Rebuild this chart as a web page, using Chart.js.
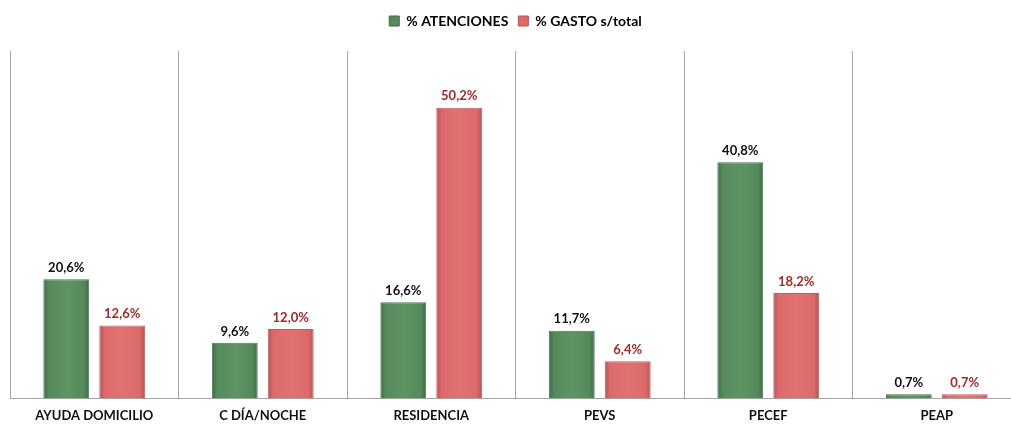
<!DOCTYPE html>
<html>
<head>
<meta charset="utf-8">
<script src="https://cdn.jsdelivr.net/npm/chart.js@4"></script>
<style>
  html, body { margin: 0; padding: 0; background: #fff; overflow: hidden; }
  #wrap { width: 1030px; height: 434px; }
</style>
</head>
<body>
<div id="wrap"><canvas id="chart"></canvas></div>
<script>
const categories = ['AYUDA DOMICILIO', 'C DÍA/NOCHE', 'RESIDENCIA', 'PEVS', 'PECEF', 'PEAP'];
const atenciones = [20.6, 9.6, 16.6, 11.7, 40.8, 0.7];
const gasto = [12.6, 12.0, 50.2, 6.4, 18.2, 0.7];
const seriesNames = ['% ATENCIONES', '% GASTO s/total'];

const fontFamily = 'Lato, "Open Sans", sans-serif';
const shades = [
  ['#3E6A44', '#568A5C', '#5E9464'],
  ['#B45253', '#DC6A6B', '#E27272']
];

function gradientFor(ctx, x, w, c) {
  const g = ctx.createLinearGradient(x - w / 2, 0, x + w / 2, 0);
  g.addColorStop(0, c[0]);
  g.addColorStop(0.12, c[1]);
  g.addColorStop(0.5, c[2]);
  g.addColorStop(0.88, c[1]);
  g.addColorStop(1, c[0]);
  return g;
}

// bevel-like shading on bars (scriptable colour keeps options per bar)
const barShading = {
  id: 'barShading',
  beforeDatasetsDraw(chart) {
    chart.data.datasets.forEach((ds, i) => {
      chart.getDatasetMeta(i).data.forEach(bar => {
        bar.options.backgroundColor = gradientFor(chart.ctx, bar.x, bar.width, shades[i]);
      });
    });
  }
};

const valueLabels = {
  id: 'valueLabels',
  afterDatasetsDraw(chart) {
    const ctx = chart.ctx;
    ctx.save();
    ctx.font = 'bold 13px ' + fontFamily;
    ctx.textAlign = 'center';
    ctx.textBaseline = 'bottom';
    chart.data.datasets.forEach((ds, i) => {
      const meta = chart.getDatasetMeta(i);
      ctx.fillStyle = i === 0 ? '#111111' : '#A52A2A';
      meta.data.forEach((bar, j) => {
        const v = ds.data[j].toFixed(1).replace('.', ',') + '%';
        ctx.fillText(v, bar.x, bar.y - 5);
      });
    });
    ctx.restore();
  }
};

// extra room under the legend
const legendGap = {
  id: 'legendGap',
  beforeInit(chart) {
    const fit = chart.legend.fit;
    chart.legend.fit = function () {
      fit.call(this);
      this.height += 13;
    };
  }
};

new Chart(document.getElementById('chart'), {
  type: 'bar',
  data: {
    labels: categories,
    datasets: [
      {
        label: seriesNames[0],
        data: atenciones,
        backgroundColor: () => shades[0][1],
        borderColor: '#4A7650',
        borderWidth: 1,
        barPercentage: 0.82,
        categoryPercentage: 0.664
      },
      {
        label: seriesNames[1],
        data: gasto,
        backgroundColor: () => shades[1][1],
        borderColor: '#C25E5F',
        borderWidth: 1,
        barPercentage: 0.82,
        categoryPercentage: 0.664
      }
    ]
  },
  options: {
    responsive: true,
    maintainAspectRatio: false,
    animation: false,
    layout: { padding: { left: 10, right: 9, top: 4, bottom: 0 } },
    plugins: {
      tooltip: { enabled: false },
      legend: {
        position: 'top',
        labels: {
          boxWidth: 10,
          boxHeight: 10,
          padding: 10,
          color: '#111',
          font: { family: fontFamily, size: 14, weight: 'bold' },
          generateLabels: chart => seriesNames.map((n, i) => ({
            text: n,
            fillStyle: shades[i][1],
            strokeStyle: shades[i][0],
            lineWidth: 1,
            datasetIndex: i
          }))
        }
      }
    },
    scales: {
      x: {
        grid: {
          display: true,
          offset: true,
          color: '#A6A6A6',
          drawTicks: false
        },
        border: { display: true, color: '#A6A6A6' },
        ticks: {
          color: '#111',
          padding: 10,
          font: { family: fontFamily, size: 13, weight: 'bold' }
        }
      },
      y: {
        display: false,
        min: 0,
        max: 60
      }
    }
  },
  plugins: [barShading, valueLabels, legendGap]
});
</script>
</body>
</html>
